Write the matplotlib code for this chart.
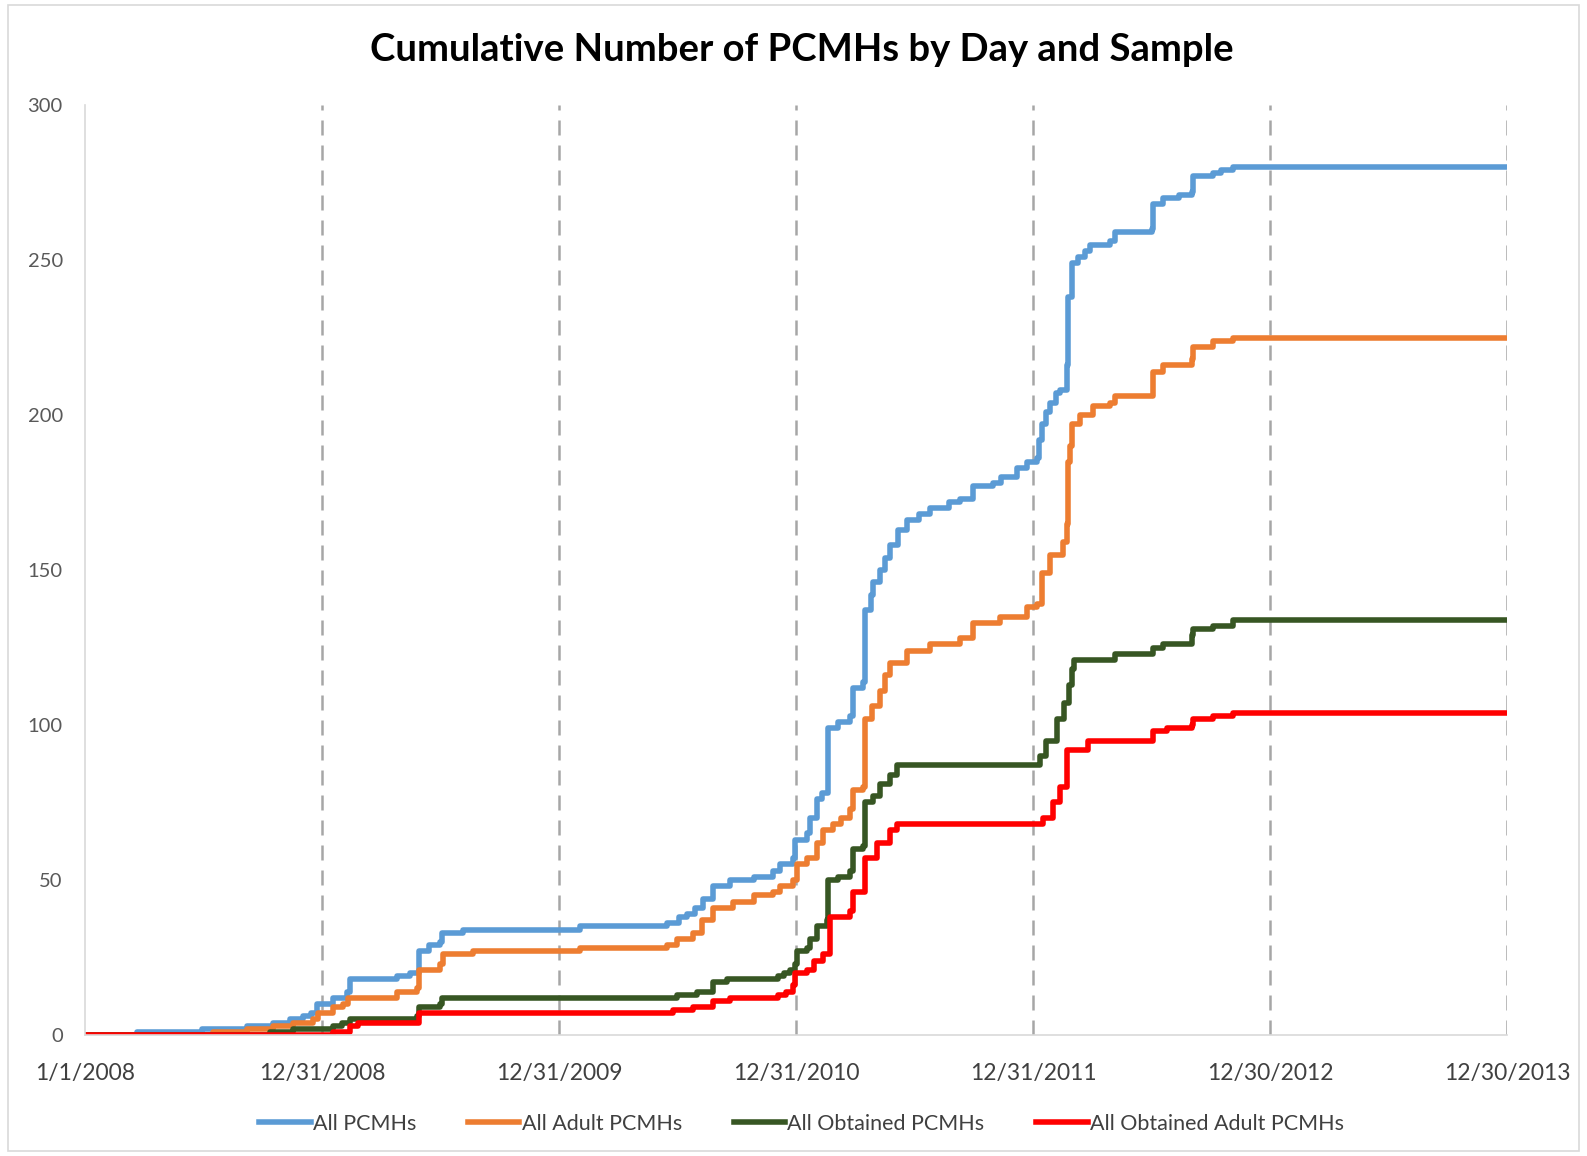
import pandas as pd
import matplotlib
matplotlib.use('Agg')
import matplotlib.pyplot as plt
from matplotlib.patches import Rectangle

plt.rcParams['font.family'] = ['Lato', 'DejaVu Sans']

# 日付は 2008/1/1 からの経過日数、値は累積件数
all_days = [0, 80, 180, 250, 290, 315, 335, 348, 357, 382, 403, 408, 480, 500, 514, 530, 547, 550, 582,
            762, 896, 915, 927, 940, 952, 967, 993, 1030, 1060, 1070, 1090, 1093, 1112, 1117, 1127, 1135,
            1144, 1160, 1178, 1183, 1198, 1201, 1210, 1214, 1224, 1232, 1240, 1252, 1266, 1285, 1301, 1330,
            1348, 1368, 1398, 1410, 1435, 1450, 1466, 1469, 1474, 1480, 1486, 1495, 1502, 1512, 1514, 1520,
            1530, 1540, 1548, 1579, 1586, 1643, 1645, 1660, 1685, 1705, 1706, 1737, 1750, 1768, 2190]
all_n = [0, 1, 2, 3, 4, 5, 6, 7, 10, 12, 14, 18, 19, 20, 27, 29, 30, 33, 34,
         35, 36, 38, 39, 41, 44, 48, 50, 51, 53, 55, 57, 63, 65, 70, 76, 78,
         99, 101, 103, 112, 114, 137, 142, 146, 150, 154, 158, 163, 166, 168, 170, 172,
         173, 177, 178, 180, 183, 185, 186, 192, 197, 201, 204, 207, 208, 216, 238, 249,
         251, 253, 255, 256, 259, 260, 268, 270, 271, 272, 277, 278, 279, 280, 280]

adult_days = [0, 197, 249, 290, 320, 351, 359, 382, 397, 405, 480, 511, 514, 547, 551, 598, 762,
              896, 912, 936, 950, 967, 998, 1030, 1060, 1070, 1090, 1096, 1112, 1127, 1137, 1152,
              1165, 1178, 1183, 1198, 1201, 1212, 1224, 1232, 1240, 1266, 1301, 1348, 1368, 1409,
              1451, 1466, 1474, 1486, 1506, 1512, 1514, 1517, 1520, 1532, 1552, 1579, 1586, 1645,
              1660, 1705, 1706, 1737, 1768, 2190]
adult_n = [0, 1, 2, 3, 4, 5, 7, 9, 10, 12, 14, 15, 21, 23, 26, 27, 28,
           29, 31, 33, 37, 41, 43, 45, 46, 48, 50, 55, 57, 62, 66, 68,
           70, 73, 79, 80, 102, 106, 111, 116, 120, 124, 126, 128, 133, 135,
           138, 139, 149, 155, 159, 165, 185, 190, 197, 200, 203, 204, 206, 214,
           216, 218, 222, 224, 225, 225]

obt_days = [0, 285, 320, 382, 395, 408, 511, 514, 547, 550, 896, 912, 943, 967, 988, 1067, 1076,
            1085, 1093, 1096, 1112, 1117, 1127, 1143, 1144, 1160, 1178, 1183, 1198, 1201, 1214,
            1224, 1240, 1251, 1466, 1470, 1480, 1497, 1508, 1516, 1520, 1523, 1586, 1645, 1660,
            1705, 1706, 1737, 1768, 2190]
obt_n = [0, 1, 2, 3, 4, 5, 6, 9, 10, 12, 12, 13, 14, 17, 18, 19, 20,
         21, 23, 27, 28, 31, 35, 37, 50, 51, 53, 60, 61, 75, 77,
         81, 84, 87, 87, 90, 95, 102, 107, 113, 118, 121, 123, 125, 126,
         129, 131, 132, 134, 134]

obt_adult_days = [0, 382, 408, 420, 514, 896, 905, 936, 967, 993, 1067, 1080, 1090, 1093, 1112,
                  1122, 1137, 1147, 1178, 1183, 1201, 1220, 1240, 1251, 1466, 1475, 1490, 1502,
                  1513, 1545, 1645, 1666, 1705, 1706, 1737, 1768, 2190]
obt_adult_n = [0, 1, 3, 4, 7, 7, 8, 9, 11, 12, 13, 14, 16, 20, 21,
               24, 26, 38, 40, 46, 57, 62, 66, 68, 68, 70, 75, 80,
               92, 95, 98, 99, 100, 102, 103, 104, 104]

series_names = ['All PCMHs', 'All Adult PCMHs', 'All Obtained PCMHs', 'All Obtained Adult PCMHs']
colors = ['#5B9BD5', '#ED7D31', '#375623', '#FF0000']

tick_days = [0, 365, 730, 1095, 1460, 1825, 2190]
tick_labels = ['1/1/2008', '12/31/2008', '12/31/2009', '12/31/2010', '12/31/2011', '12/30/2012', '12/30/2013']

start = pd.Timestamp('2008-01-01')


def to_dates(days):
    return start + pd.to_timedelta(days, unit='D')


fig = plt.figure(figsize=(15.87, 11.56), dpi=100)
ax = fig.add_axes([0.0536, 0.1047, 0.896, 0.8044])

# グラフ外枠
fig.patches.append(Rectangle((0.005, 0.004), 0.99, 0.992, transform=fig.transFigure,
                             fill=False, edgecolor='#D9D9D9', linewidth=1.2))

data = [(all_days, all_n), (adult_days, adult_n), (obt_days, obt_n), (obt_adult_days, obt_adult_n)]
for (d, n), name, c in zip(data, series_names, colors):
    ax.step(to_dates(d), n, where='post', color=c, linewidth=4.0, label=name)

ax.set_xlim(to_dates([0])[0], to_dates([2190])[0])
ax.set_ylim(0, 300)
ax.set_xticks(to_dates(tick_days))
ax.set_xticklabels(tick_labels)
ax.set_yticks(range(0, 301, 50))

ax.tick_params(axis='x', length=0, pad=20, labelsize=16.5, labelcolor='#404040')
ax.tick_params(axis='y', length=0, pad=16, labelsize=14.5, labelcolor='#595959')

# 縦の破線グリッド（左端は軸線なので消す）
ax.grid(axis='x', color='#A6A6A6', linestyle=(0, (6, 4)), linewidth=1.8)
ax.set_axisbelow(True)
ax.get_xgridlines()[0].set_visible(False)

for s in ['top', 'right']:
    ax.spines[s].set_visible(False)
ax.spines['left'].set_color('#D9D9D9')
ax.spines['bottom'].set_color('#D9D9D9')
ax.spines['left'].set_linewidth(1.2)
ax.spines['bottom'].set_linewidth(1.2)

fig.text(0.505, 0.957, 'Cumulative Number of PCMHs by Day and Sample', ha='center', va='center',
         fontsize=27.5, fontweight='bold', color='black')

fig.legend(loc='center', bbox_to_anchor=(0.505, 0.028), ncol=4, frameon=False, fontsize=15.5,
           handlelength=2.4, handletextpad=0.1, columnspacing=2.4, labelcolor='#404040')

plt.savefig('out.png', dpi=100)
plt.close()
